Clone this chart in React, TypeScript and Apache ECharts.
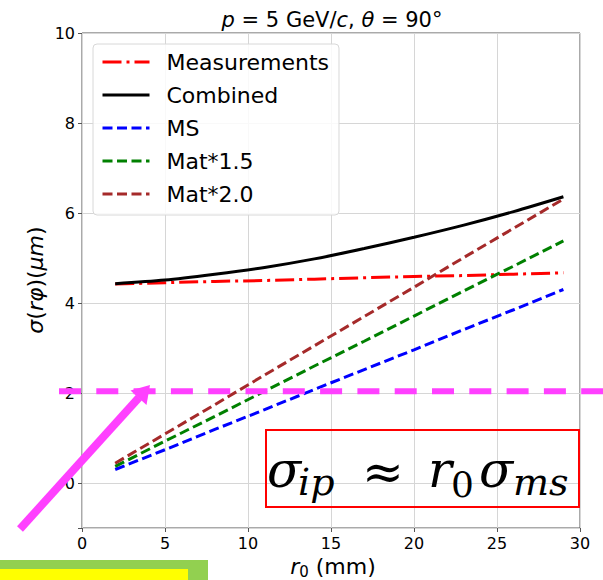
import React, { useEffect, useRef } from 'react';
import * as echarts from 'echarts';

const radii = [2, 5, 8, 11, 14, 17, 20, 23, 26, 29];
const measurements = [4.42, 4.45, 4.48, 4.5, 4.53, 4.56, 4.59, 4.61, 4.64, 4.67];
const combined = [4.43, 4.51, 4.64, 4.79, 4.98, 5.21, 5.46, 5.73, 6.03, 6.36];
const ms = [0.3, 0.74, 1.19, 1.63, 2.08, 2.52, 2.96, 3.41, 3.85, 4.3];
const mat15 = [0.37, 0.93, 1.48, 2.04, 2.6, 3.15, 3.71, 4.27, 4.82, 5.38];
const mat20 = [0.44, 1.09, 1.74, 2.4, 3.05, 3.7, 4.35, 5.01, 5.66, 6.31];
const seriesNames = ['Measurements', 'Combined', 'MS', 'Mat*1.5', 'Mat*2.0'];
const threshold = 2.04;

const FONT = 'DejaVu Sans';
const MAGENTA = '#ff40ff';

const pairs = (vals: number[]) => radii.map((r, i) => [r, vals[i]]);

export default function App() {
  const ref = useRef<HTMLDivElement>(null);
  useEffect(() => {
    document.body.style.margin = '0';
    const chart = echarts.init(ref.current!, null, { renderer: 'svg' });
    const dash = [10, 4.5];
    chart.setOption({
      animation: false,
      grid: { left: 82, right: 23, top: 33, bottom: 52, show: true, borderColor: '#555', borderWidth: 1 },
      xAxis: {
        type: 'value', min: 0, max: 30, interval: 5,
        axisLine: { show: false, onZero: false },
        axisTick: { show: true, length: 4, lineStyle: { color: '#555' } },
        axisLabel: { fontSize: 16, fontFamily: FONT, color: '#000', margin: 7 },
        splitLine: { show: true, lineStyle: { color: '#d6d6d6', width: 1 } },
      },
      yAxis: {
        type: 'value', min: -1, max: 10, splitNumber: 5,
        axisLine: { show: false, onZero: false },
        axisTick: { show: true, length: 4, lineStyle: { color: '#555' } },
        axisLabel: { fontSize: 16, fontFamily: FONT, color: '#000', margin: 7,
          formatter: (v: number) => (v === -1 ? '' : String(v)) },
        splitLine: { show: true, lineStyle: { color: '#d6d6d6', width: 1 } },
      },
      legend: {
        orient: 'vertical', left: 93, top: 44,
        itemWidth: 47, itemHeight: 22, itemGap: 11,
        padding: [7, 10, 10, 8],
        backgroundColor: 'rgba(255,255,255,0.85)', borderColor: '#d8d8d8', borderWidth: 1, borderRadius: 4,
        textStyle: { fontSize: 22, fontFamily: FONT, color: '#000', padding: [0, 0, 0, 12] },
        itemStyle: { opacity: 0 },
        lineStyle: { width: 3 },
        data: seriesNames,
        selectedMode: false,
      },
      series: [
        { name: seriesNames[0], type: 'line', data: pairs(measurements), symbol: 'none', lineStyle: { color: '#ff0000', width: 3, type: [19, 5, 3, 5] }, itemStyle: { color: '#ff0000' } },
        { name: seriesNames[1], type: 'line', data: pairs(combined), symbol: 'none', smooth: 0.3, lineStyle: { color: '#000000', width: 3, type: 'solid' }, itemStyle: { color: '#000000' } },
        { name: seriesNames[2], type: 'line', data: pairs(ms), symbol: 'none', lineStyle: { color: '#0000ff', width: 3, type: dash }, itemStyle: { color: '#0000ff' } },
        { name: seriesNames[3], type: 'line', data: pairs(mat15), symbol: 'none', lineStyle: { color: '#008000', width: 3, type: dash }, itemStyle: { color: '#008000' } },
        { name: seriesNames[4], type: 'line', data: pairs(mat20), symbol: 'none', lineStyle: { color: '#a52a2a', width: 3, type: dash }, itemStyle: { color: '#a52a2a' } },
      ],
    });
    const yThr = chart.convertToPixel({ yAxisIndex: 0 }, threshold) as number;
    const mathFont = 'DejaVu Serif';
    const big = 50;
    const small = 38;
    const mainY = 470;
    const subY = 482;
    const mt = (text: string, x: number, y: number, size: number, italic = true, family = mathFont) => ({
      type: 'text', x, y, z: 100,
      style: { text, fontSize: size, fontStyle: italic ? 'italic' : 'normal', fontFamily: family, fill: '#000', align: 'left', verticalAlign: 'middle' },
    });
    chart.setOption({
      graphic: [
        { type: 'text', x: 332, y: 20, z: 100, style: {
          text: '{i|p} = 5 GeV/{i|c}, {i|θ} = 90°', fontSize: 21, fontFamily: FONT, fill: '#000', align: 'center', verticalAlign: 'middle',
          rich: { i: { fontStyle: 'italic', fontSize: 21, fontFamily: FONT } } } },
        { type: 'text', x: 35, y: 280, rotation: Math.PI / 2, z: 100, style: {
          text: '{i|σ}({i|rφ})({i|μm})', fontSize: 22, fontFamily: FONT, fill: '#000', align: 'center', verticalAlign: 'middle',
          rich: { i: { fontStyle: 'italic', fontSize: 22, fontFamily: FONT } } } },
        { type: 'text', x: 333, y: 566, z: 100, style: {
          text: '{i|r}{s|0}{n| (mm)}', fontSize: 22, fontFamily: FONT, fill: '#000', align: 'center', verticalAlign: 'middle',
          rich: {
            i: { fontStyle: 'italic', fontSize: 22, fontFamily: FONT, lineHeight: 26 },
            s: { fontSize: 15, fontFamily: FONT, lineHeight: 16, verticalAlign: 'bottom' },
            n: { fontSize: 22, fontFamily: FONT, lineHeight: 26 },
          } } },
        { type: 'line', z: 90, shape: { x1: 59, y1: yThr, x2: 603, y2: yThr }, style: { stroke: MAGENTA, lineWidth: 6, lineDash: [22, 15.3] } },
        { type: 'line', z: 90, shape: { x1: 20, y1: 529, x2: 139, y2: 397.5 }, style: { stroke: MAGENTA, lineWidth: 8 } },
        { type: 'polygon', z: 90, shape: { points: [[150, 385], [130.5, 390.5], [146.5, 405]] }, style: { fill: MAGENTA } },
        { type: 'rect', z: 90, shape: { x: 266, y: 430, width: 313, height: 77 }, style: { fill: 'none', stroke: '#ff0000', lineWidth: 2 } },
        mt('σ', 267, mainY, big),
        mt('ip', 298, subY, small),
        mt('≈', 362, mainY + 2, 50, false),
        mt('r', 428, mainY, big),
        mt('0', 451, subY + 2, 36, false),
        mt('σ', 479, mainY, big),
        mt('ms', 513, subY, small),
        { type: 'rect', z: 100, shape: { x: 0, y: 560, width: 208, height: 20 }, style: { fill: '#92d050' } },
        { type: 'rect', z: 101, shape: { x: 0, y: 569, width: 188, height: 11 }, style: { fill: '#ffff00' } },
      ],
    });
    return () => chart.dispose();
  }, []);
  return <div ref={ref} style={{ width: 603, height: 580, overflow: 'hidden' }} />;
}
